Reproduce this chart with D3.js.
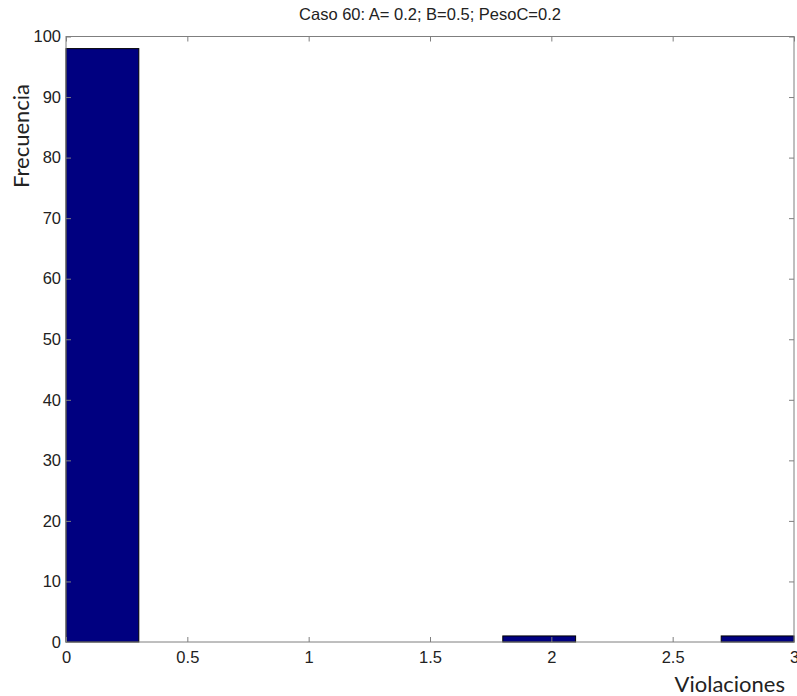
<!DOCTYPE html>
<html lang="es">
  <head>
    <meta charset="utf-8">
    <title></title>
    <style>
      body { margin: 0; background: #fff; }
    </style>
  </head>
  <body>
    <svg width="797" height="696"></svg>
  </body>
  <script src="https://cdn.jsdelivr.net/npm/d3@7/dist/d3.min.js" charset="utf-8"></script>
  <script type="text/javascript">

    // histogram bins (edges) and counts
    const binStarts = [0, 0.3, 0.6, 0.9, 1.2, 1.5, 1.8, 2.1, 2.4, 2.7],
          binWidth = 0.3,
          counts = [98, 0, 0, 0, 0, 0, 1, 0, 0, 1]

    const xTicks = [0, 0.5, 1, 1.5, 2, 2.5, 3],
          yTicks = [0, 10, 20, 30, 40, 50, 60, 70, 80, 90, 100]

    const title = "Caso 60: A= 0.2; B=0.5; PesoC=0.2",
          xLabel = "Violaciones",
          yLabel = "Frecuencia"

    const margin = {top: 36.5, bottom: 54, left: 66, right: 3},
          width = 797,
          height = 696,
          svg = d3.select("svg")

    const x = d3.scaleLinear().domain([0, 3]).range([margin.left, width - margin.right]),
          y = d3.scaleLinear().domain([0, 100]).range([height - margin.bottom, margin.top])

    const data = binStarts.map((s, i) => ({x0: s, x1: s + binWidth, n: counts[i]}))

    // bars
    svg.selectAll("rect.bar")
      .data(data.filter(d => d.n > 0))
      .enter()
      .append("rect")
        .attr("class", "bar")
        .attr("x", d => x(d.x0))
        .attr("y", d => y(d.n))
        .attr("width", d => x(d.x1) - x(d.x0))
        .attr("height", d => y(0) - y(d.n))
        .style("fill", "#000080")
        .style("stroke", "#000")
        .style("stroke-width", 1)

    const tickFont = "'Liberation Sans', Arial, sans-serif",
          axisColor = "#7f7f7f",
          tl = 5

    // box
    svg.append("rect")
      .attr("x", x(0)).attr("y", y(100))
      .attr("width", x(3) - x(0)).attr("height", y(0) - y(100))
      .style("fill", "none")
      .style("stroke", axisColor)
      .style("stroke-width", 1)

    // inward ticks on all four sides
    const axB = d3.axisBottom(x).tickValues(xTicks).tickSize(-tl).tickPadding(9).tickFormat(d3.format("~g")),
          axT = d3.axisTop(x).tickValues(xTicks).tickSize(-tl).tickFormat(""),
          axL = d3.axisLeft(y).tickValues(yTicks).tickSize(-tl).tickPadding(5),
          axR = d3.axisRight(y).tickValues(yTicks).tickSize(-tl).tickFormat("")

    const gB = svg.append("g").attr("transform", `translate(0,${y(0)})`).call(axB),
          gT = svg.append("g").attr("transform", `translate(0,${y(100)})`).call(axT),
          gL = svg.append("g").attr("transform", `translate(${x(0)},0)`).call(axL),
          gR = svg.append("g").attr("transform", `translate(${x(3)},0)`).call(axR)

    ;[gB, gT, gL, gR].forEach(g => {
      g.select(".domain").remove()
      g.selectAll("line").style("stroke", axisColor)
      g.selectAll("text")
        .style("font-family", tickFont)
        .style("font-size", "16.5px")
        .style("fill", "#222")
    })

    // title
    svg.append("text")
      .text(title)
      .attr("x", (x(0) + x(3)) / 2)
      .attr("y", 20)
      .attr("text-anchor", "middle")
      .style("font-family", tickFont)
      .style("font-size", "16.5px")
      .style("fill", "#222")

    // axis labels
    svg.append("text")
      .text(xLabel)
      .attr("x", 785)
      .attr("y", 692)
      .attr("text-anchor", "end")
      .style("font-family", "Lato, 'Open Sans', sans-serif")
      .style("font-size", "22px")
      .style("fill", "#222")

    svg.append("text")
      .text(yLabel)
      .attr("transform", `translate(29,${136}) rotate(-90)`)
      .attr("text-anchor", "middle")
      .style("font-family", "Lato, 'Open Sans', sans-serif")
      .style("font-size", "22px")
      .style("fill", "#222")

  </script>
</html>
